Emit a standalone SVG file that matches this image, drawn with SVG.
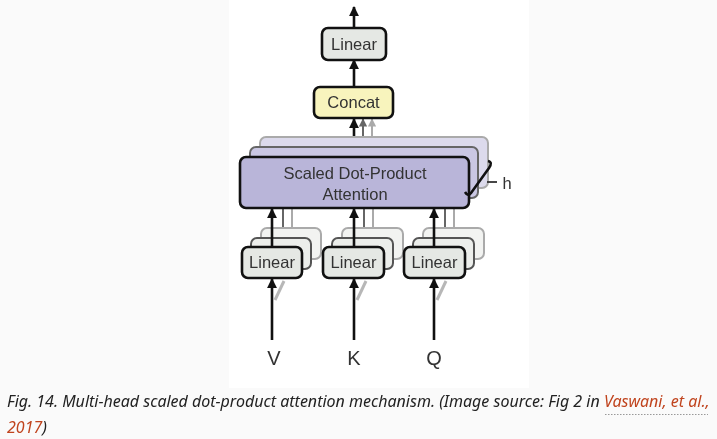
<svg xmlns="http://www.w3.org/2000/svg" width="717" height="439" viewBox="0 0 717 439">
<defs>
<style>
.box{stroke:#111;stroke-width:2.6}
.lin{fill:#e5e8e4}
.lbl{font-family:"Liberation Sans",Arial,sans-serif;font-size:16.5px;fill:#333;text-anchor:middle}
.io{font-family:"Liberation Sans",Arial,sans-serif;font-size:20px;fill:#333;text-anchor:middle}
.cap{font-family:"Noto Sans","Open Sans",sans-serif;font-size:16px;font-style:italic;fill:#222}
.lnk{fill:#c0441e}
.arr{stroke:#111;stroke-width:2.6;fill:none;marker-end:url(#ah)}
.sh1{stroke:#666;stroke-width:2;fill:none}
.sh2{stroke:#aaa;stroke-width:2;fill:none}
.l2{fill:#eceeeb;stroke:#555;stroke-width:2}
.l3{fill:#f2f3f1;stroke:#aaa;stroke-width:2}
</style>
<marker id="ah" viewBox="0 0 10 10" refX="9" refY="5" markerWidth="3.8" markerHeight="3.8" orient="auto" markerUnits="strokeWidth">
<path d="M0,0 L10,5 L0,10 z" fill="#111"/>
</marker>
<marker id="ahg" viewBox="0 0 10 10" refX="9" refY="5" markerWidth="4.2" markerHeight="4.2" orient="auto" markerUnits="strokeWidth">
<path d="M0,0 L10,5 L0,10 z" fill="#666"/>
</marker>
<marker id="ahl" viewBox="0 0 10 10" refX="9" refY="5" markerWidth="4.2" markerHeight="4.2" orient="auto" markerUnits="strokeWidth">
<path d="M0,0 L10,5 L0,10 z" fill="#aaa"/>
</marker>
<filter id="bl" x="-10%" y="-10%" width="120%" height="120%"><feGaussianBlur stdDeviation="0.7"/></filter>
</defs>
<rect width="717" height="439" fill="#fafafa"/>
<rect x="229" y="0" width="300" height="388" fill="#ffffff"/>

<g id="connectors">
<line x1="354" y1="28" x2="354" y2="7" class="arr"/>
<line x1="354" y1="87" x2="354" y2="60" class="arr"/>
<line x1="372" y1="137" x2="372" y2="119" stroke="#aaa" stroke-width="2" marker-end="url(#ahl)"/>
<line x1="363" y1="147" x2="363" y2="119" stroke="#666" stroke-width="2" marker-end="url(#ahg)"/>
<line x1="354" y1="157" x2="354" y2="119" class="arr"/>
<g filter="url(#bl)">
<line x1="292" y1="228" x2="292" y2="208" class="sh2"/>
<line x1="283" y1="238" x2="283" y2="208" class="sh1"/>
<line x1="373" y1="228" x2="373" y2="208" class="sh2"/>
<line x1="364" y1="238" x2="364" y2="208" class="sh1"/>
<line x1="454" y1="228" x2="454" y2="208" class="sh2"/>
<line x1="445" y1="238" x2="445" y2="208" class="sh1"/>
<line x1="275" y1="300" x2="284" y2="281" stroke="#999" stroke-width="3" opacity="0.7"/>
<line x1="357" y1="300" x2="366" y2="281" stroke="#999" stroke-width="3" opacity="0.7"/>
<line x1="437" y1="300" x2="446" y2="281" stroke="#999" stroke-width="3" opacity="0.7"/>
</g>
</g>

<g id="attention">
<rect x="260" y="137" width="228" height="51" rx="6" fill="#dcdaec" stroke="#aaa" stroke-width="2" filter="url(#bl)"/>
<rect x="250" y="147" width="228" height="51" rx="6" fill="#cac7e3" stroke="#666" stroke-width="2" filter="url(#bl)"/>
<rect x="240" y="157" width="229" height="51" rx="6" fill="#b9b5d9" class="box"/>
<text x="355" y="179" class="lbl">Scaled Dot-Product</text>
<text x="355" y="200" class="lbl">Attention</text>
</g>

<g id="h-bracket">
<path d="M465,192 Q468,197 471,193 L489,168 Q493,162 488,161" fill="none" stroke="#111" stroke-width="2.6"/>
<line x1="487" y1="182" x2="497" y2="182" stroke="#333" stroke-width="1.8"/>
<text x="507" y="189" class="lbl" font-size="17">h</text>
</g>

<g id="concat">
<rect x="314" y="87" width="79" height="31" rx="6" fill="#f8f4bd" class="box"/>
<text x="353.5" y="108" class="lbl">Concat</text>
</g>

<g id="linear-top">
<rect x="322" y="28" width="64" height="32" rx="6" class="box lin"/>
<text x="354" y="50" class="lbl">Linear</text>
</g>

<g id="linear-v">
<rect x="261" y="228" width="60" height="31" rx="6" class="l3" filter="url(#bl)"/>
<rect x="251" y="238" width="60" height="31" rx="6" class="l2" filter="url(#bl)"/>
<rect x="242" y="247" width="60" height="31" rx="6" class="box lin"/>
<line x1="272" y1="247" x2="272" y2="209" class="arr"/>
<text x="272" y="268" class="lbl">Linear</text>
</g>

<g id="linear-k">
<rect x="342" y="228" width="61" height="31" rx="6" class="l3" filter="url(#bl)"/>
<rect x="332" y="238" width="61" height="31" rx="6" class="l2" filter="url(#bl)"/>
<rect x="323" y="247" width="61" height="31" rx="6" class="box lin"/>
<line x1="354" y1="247" x2="354" y2="209" class="arr"/>
<text x="353.5" y="268" class="lbl">Linear</text>
</g>

<g id="linear-q">
<rect x="423" y="228" width="61" height="31" rx="6" class="l3" filter="url(#bl)"/>
<rect x="413" y="238" width="61" height="31" rx="6" class="l2" filter="url(#bl)"/>
<rect x="404" y="247" width="61" height="31" rx="6" class="box lin"/>
<line x1="434" y1="247" x2="434" y2="209" class="arr"/>
<text x="434.5" y="268" class="lbl">Linear</text>
</g>

<g id="inputs">
<line x1="272" y1="340" x2="272" y2="279" class="arr"/>
<line x1="354" y1="340" x2="354" y2="279" class="arr"/>
<line x1="434" y1="340" x2="434" y2="279" class="arr"/>
<text x="274" y="365" class="io">V</text>
<text x="354" y="365" class="io">K</text>
<text x="434" y="365" class="io">Q</text>
</g>

<g id="caption">
<text x="7" y="407" class="cap">Fig. 14. Multi-head scaled dot-product attention mechanism. (Image source: Fig 2 in <tspan class="lnk">Vaswani, et al.,</tspan></text>
<text x="7" y="433" class="cap"><tspan class="lnk">2017</tspan>)</text>
<line x1="605" y1="414.5" x2="708" y2="414.5" stroke="#999" stroke-width="1" stroke-dasharray="1.5,1.5"/>
</g>
</svg>
